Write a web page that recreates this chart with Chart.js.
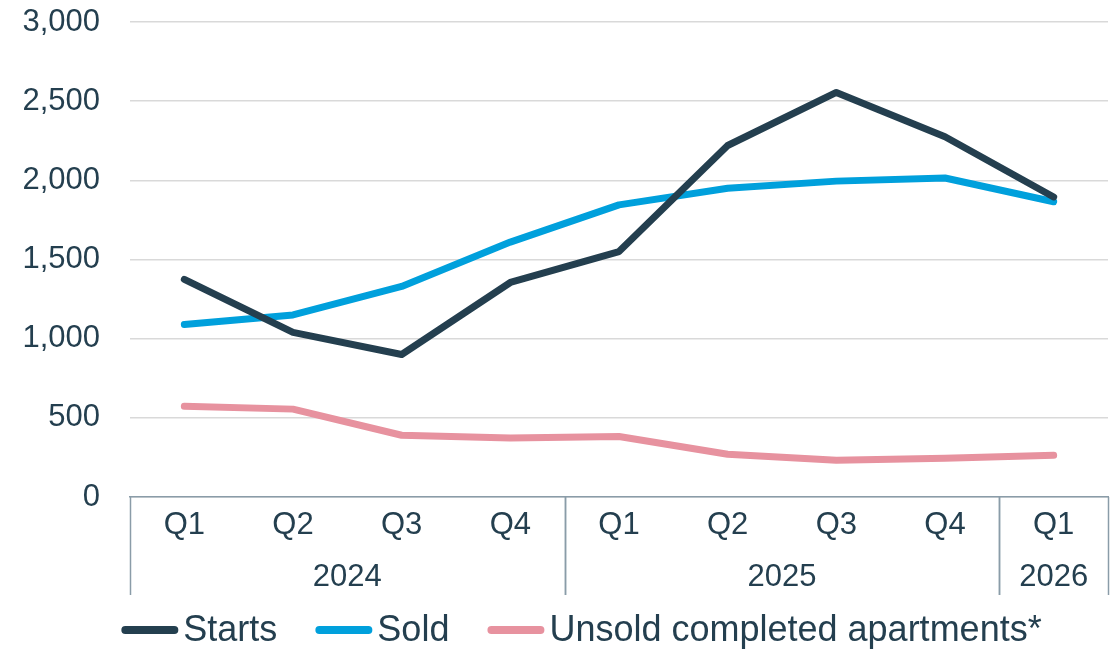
<!DOCTYPE html>
<html>
<head>
    <title>Starts, sold and unsold apartments</title>
    <script src="https://cdn.jsdelivr.net/npm/chart.js"></script>
    <style>
        html, body { margin: 0; padding: 0; background: #fff; }
        #wrap { width: 1119px; height: 649px; }
    </style>
</head>
<body>
    <div id="wrap"><canvas id="myChart"></canvas></div>
    <script>
        var quarters = ['Q1', 'Q2', 'Q3', 'Q4', 'Q1', 'Q2', 'Q3', 'Q4', 'Q1'];
        var years = ['2024', '2024', '2024', '2024', '2025', '2025', '2025', '2025', '2026'];
        var starts = [1375, 1040, 900, 1355, 1550, 2220, 2555, 2275, 1895];
        var sold = [1090, 1150, 1330, 1610, 1845, 1950, 1995, 2015, 1865];
        var unsold = [573, 555, 390, 372, 382, 270, 232, 245, 263];
        var yTicks = [0, 500, 1000, 1500, 2000, 2500, 3000];

        var textColor = '#243f4f';
        var sepColor = '#8a9ca8';
        var fontFamily = '"Liberation Sans", Arial, sans-serif';

        // year row + separators under the x axis
        var groupPlugin = {
            id: 'groupLabels',
            afterDraw: function(chart) {
                var ctx = chart.ctx;
                var xs = chart.scales.x;
                var top = xs.top;
                var bottom = top + 98;
                var step = xs.getPixelForValue(1) - xs.getPixelForValue(0);
                ctx.save();
                ctx.strokeStyle = sepColor;
                ctx.lineWidth = 1.5;
                var groups = [];
                for (var i = 0; i < years.length; i++) {
                    if (i === 0 || years[i] !== years[i - 1]) groups.push({ year: years[i], start: i, end: i });
                    else groups[groups.length - 1].end = i;
                }
                var edges = [];
                groups.forEach(function(g) {
                    var left = xs.getPixelForValue(g.start) - step / 2;
                    var right = xs.getPixelForValue(g.end) + step / 2;
                    edges.push(left, right);
                    ctx.fillStyle = textColor;
                    ctx.font = '31px ' + fontFamily;
                    ctx.textAlign = 'center';
                    ctx.textBaseline = 'middle';
                    ctx.fillText(g.year, (left + right) / 2, top + 80);
                });
                edges.forEach(function(x) {
                    ctx.beginPath();
                    ctx.moveTo(Math.round(x) + 0.5, top);
                    ctx.lineTo(Math.round(x) + 0.5, bottom);
                    ctx.stroke();
                });
                ctx.restore();
            }
        };

        // legend: short thick line right next to the label
        var legendPlugin = {
            id: 'lineLegend',
            afterDraw: function(chart) {
                var ctx = chart.ctx;
                var sets = chart.data.datasets;
                var lineLen = 49, gap = 9, itemGap = 38;
                ctx.save();
                ctx.font = '36px ' + fontFamily;
                ctx.textBaseline = 'middle';
                ctx.textAlign = 'left';
                var total = 0;
                sets.forEach(function(ds, i) {
                    total += 4 + lineLen + gap + ctx.measureText(ds.label).width;
                    if (i < sets.length - 1) total += itemGap;
                });
                var x = chart.width / 2 + 22 - total / 2;
                var y = 630;
                sets.forEach(function(ds) {
                    ctx.strokeStyle = ds.borderColor;
                    ctx.lineWidth = 8;
                    ctx.lineCap = 'round';
                    ctx.beginPath();
                    ctx.moveTo(x + 4, y);
                    ctx.lineTo(x + 4 + lineLen, y);
                    ctx.stroke();
                    x += 4 + lineLen + gap;
                    ctx.fillStyle = textColor;
                    ctx.fillText(ds.label, x, y + 1);
                    x += ctx.measureText(ds.label).width + itemGap;
                });
                ctx.restore();
            }
        };

        var ctx = document.getElementById('myChart').getContext('2d');
        var myChart = new Chart(ctx, {
            type: 'line',
            data: {
                labels: quarters,
                datasets: [
                    {
                        label: 'Starts',
                        data: starts,
                        borderColor: '#243f4f',
                        borderWidth: 7,
                        borderCapStyle: 'round',
                        borderJoinStyle: 'round',
                        pointRadius: 0,
                        tension: 0
                    },
                    {
                        label: 'Sold',
                        data: sold,
                        borderColor: '#00a0dc',
                        borderWidth: 7,
                        borderCapStyle: 'round',
                        borderJoinStyle: 'round',
                        pointRadius: 0,
                        tension: 0
                    },
                    {
                        label: 'Unsold completed apartments*',
                        data: unsold,
                        borderColor: '#e7929f',
                        borderWidth: 7,
                        borderCapStyle: 'round',
                        borderJoinStyle: 'round',
                        pointRadius: 0,
                        tension: 0
                    }
                ]
            },
            options: {
                responsive: true,
                maintainAspectRatio: false,
                animation: false,
                layout: { padding: { top: 22, right: 11, left: 0, bottom: 52 } },
                plugins: {
                    tooltip: { enabled: false },
                    legend: { display: false }
                },
                scales: {
                    x: {
                        offset: true,
                        grid: { display: false, drawTicks: false },
                        border: { display: true, color: sepColor, width: 1.5 },
                        ticks: {
                            color: textColor,
                            padding: 10,
                            font: { family: fontFamily, size: 31 },
                            maxRotation: 0
                        },
                        afterFit: function(scale) { scale.height = 100; }
                    },
                    y: {
                        min: 0,
                        max: 3000,
                        afterBuildTicks: function(scale) {
                            scale.ticks = yTicks.map(function(v) { return { value: v }; });
                        },
                        grid: { color: '#d9d9d9', lineWidth: 1.5, drawTicks: false },
                        border: { display: false },
                        ticks: {
                            color: textColor,
                            padding: 30,
                            font: { family: fontFamily, size: 31 },
                            callback: function(v) { return v.toLocaleString('en-US'); }
                        },
                        afterFit: function(scale) {
                            scale.width = 130;
                            scale.paddingTop = 0;
                            scale.paddingBottom = 0;
                        }
                    }
                }
            },
            plugins: [groupPlugin, legendPlugin]
        });
    </script>
</body>
</html>
